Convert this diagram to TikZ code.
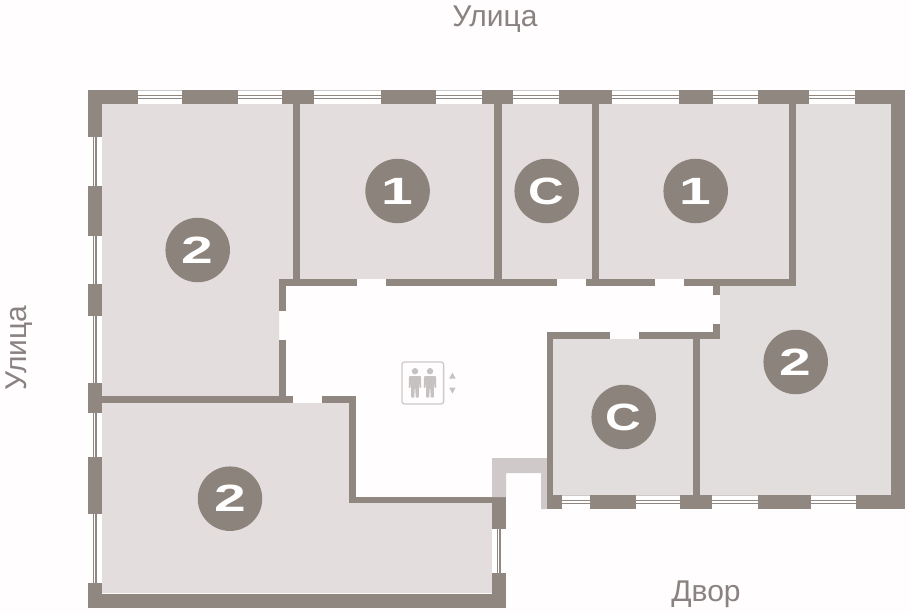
\documentclass[tikz,border=0pt]{standalone}
\usepackage{fontspec}
\setmainfont{Liberation Sans}
\definecolor{wallc}{HTML}{8F8780}
\definecolor{markc}{HTML}{8C837C}
\definecolor{roomc}{HTML}{E4DDDD}
\definecolor{roomd}{HTML}{E2DEDD}
\definecolor{paper}{HTML}{FFFDFD}
\definecolor{lightw}{HTML}{CFCAC9}
\definecolor{iconc}{HTML}{C6C2C2}
\definecolor{labelc}{HTML}{8A8280}
\tikzset{
  wall/.style={fill=wallc,draw=none},
  room/.style={fill=roomc,draw=none},
  lightwall/.style={fill=lightw,draw=none},
  glass/.style={draw=wallc,line width=1.1pt},
  frameline/.style={draw=lightw,line width=0.8pt},
  badge/.style={circle,fill=markc,draw=none,minimum size=64.5pt,inner sep=0pt,text=white,font=\fontsize{38}{38}\selectfont\bfseries},
  streetlabel/.style={text=labelc,font=\fontsize{30}{30}\selectfont,inner sep=0pt},
  iconshape/.style={fill=iconc,draw=none}
}
% horizontal window: x1,x2,y-top,y-bottom
\newcommand{\hwin}[4]{%
  \fill[white] (#1,#3) rectangle (#2,#4);
  \draw[frameline] (#1,#3+0.5) -- (#2,#3+0.5);
  \draw[glass] (#1,#3+5.7) -- (#2,#3+5.7);
  \draw[glass] (#1,#3+8.2) -- (#2,#3+8.2);
}
% vertical window: y1,y2,x-left,x-right
\newcommand{\vwin}[4]{%
  \fill[white] (#3,#1) rectangle (#4,#2);
  \draw[glass] (#3+5.3,#1) -- (#3+5.3,#2);
  \draw[glass] (#3+8,#1) -- (#3+8,#2);
}
% elevator person, centred on x
\newcommand{\liftperson}[1]{%
  \fill[iconshape] (#1,371.2) circle (3.2);
  \fill[iconshape,rounded corners=1pt] (#1-6,376) -- (#1+6,376) -- (#1+6.3,388) -- (#1+4.4,388) -- (#1+4,379.5)
     -- (#1+3.9,397.6) -- (#1+0.6,397.6) -- (#1+0.4,388) -- (#1-0.4,388) -- (#1-0.6,397.6) -- (#1-3.9,397.6)
     -- (#1-4,379.5) -- (#1-4.4,388) -- (#1-6.3,388) -- cycle;
}
\newcommand{\badgetext}[2]{\raisebox{-1.5pt}{\scalebox{#1}[1]{#2}}}
\begin{document}
\begin{tikzpicture}[x=1pt,y=-1pt]
\useasboundingbox (0,0) rectangle (910,613);
\fill[paper] (0,0) rectangle (910,613);

% rooms
\fill[room] (102,104) -- (293,104) -- (293,279) -- (279,279) -- (279,396) -- (102,396) -- cycle;
\fill[room] (300,104) rectangle (494,279);
\fill[room] (502,104) rectangle (592,279);
\fill[room] (599,104) rectangle (789,279);
\fill[roomd] (796,104) -- (891,104) -- (891,495) -- (700,495) -- (700,339) -- (720,339) -- (720,286) -- (796,286) -- cycle;
\fill[roomd] (553,339) rectangle (693,495);
\fill[room] (102,403) -- (349,403) -- (349,503) -- (492,503) -- (492,593) -- (102,593) -- cycle;

% windows
\hwin{138}{182}{90}{104}
\hwin{238}{282}{90}{104}
\hwin{314}{381}{90}{104}
\hwin{436}{482}{90}{104}
\hwin{513}{559}{90}{104}
\hwin{612}{679}{90}{104}
\hwin{713}{758}{90}{104}
\hwin{809}{855}{90}{104}
\hwin{562}{590}{495}{509}
\hwin{636}{680}{495}{509}
\hwin{712}{758}{495}{509}
\hwin{811}{856}{495}{509}
\vwin{137}{186}{88}{102}
\vwin{236}{284}{88}{102}
\vwin{316}{383}{88}{102}
\vwin{413}{457}{88}{102}
\vwin{514}{583}{88}{102}
\vwin{529}{573}{492}{506}

% outer wall, top
\fill[wall] (88,90) rectangle (138,104);
\fill[wall] (182,90) rectangle (238,104);
\fill[wall] (282,90) rectangle (314,104);
\fill[wall] (381,90) rectangle (436,104);
\fill[wall] (482,90) rectangle (513,104);
\fill[wall] (559,90) rectangle (612,104);
\fill[wall] (679,90) rectangle (713,104);
\fill[wall] (758,90) rectangle (809,104);
\fill[wall] (855,90) rectangle (905,104);
% outer wall, right
\fill[wall] (891,90) rectangle (905,509);
% outer wall, left
\fill[wall] (88,90) rectangle (102,137);
\fill[wall] (88,186) rectangle (102,236);
\fill[wall] (88,284) rectangle (102,316);
\fill[wall] (88,383) rectangle (102,413);
\fill[wall] (88,457) rectangle (102,514);
\fill[wall] (88,583) rectangle (102,608);
% outer wall, bottom
\fill[wall] (88,593.5) rectangle (506,608);
\fill[wall] (492,573) rectangle (506,608);
\fill[wall] (492,497) rectangle (506,529);
% lower right facade
\fill[wall] (547,495) rectangle (562,509);
\fill[wall] (590,495) rectangle (636,509);
\fill[wall] (680,495) rectangle (712,509);
\fill[wall] (758,495) rectangle (811,509);
\fill[wall] (856,495) rectangle (905,509);

% light entrance walls
\fill[lightwall] (492,458) -- (547,458) -- (547,509) -- (541,509) -- (541,473) -- (506,473) -- (506,497) -- (492,497) -- cycle;

% partitions, vertical
\fill[wall] (293,104) rectangle (300,279);
\fill[wall] (494,104) rectangle (502,279);
\fill[wall] (592,104) rectangle (599,279);
\fill[wall] (789,104) rectangle (796,286);
\fill[wall] (279,279) rectangle (286,311);
\fill[wall] (279,340) rectangle (286,396);
\fill[wall] (349,396) rectangle (356,503);
\fill[wall] (547,332) rectangle (553,509);
\fill[wall] (693,339) rectangle (700,495);
\fill[wall] (713,286) rectangle (720,295);
\fill[wall] (713,324) rectangle (720,339);
% partitions, horizontal
\fill[wall] (279,279) rectangle (357,286);
\fill[wall] (386,279) rectangle (557,286);
\fill[wall] (586,279) rectangle (655,286);
\fill[wall] (684,279) rectangle (796,286);
\fill[wall] (547,332) rectangle (610,339);
\fill[wall] (639,332) rectangle (720,339);
\fill[wall] (102,396) rectangle (293,403);
\fill[wall] (322,396) rectangle (356,403);
\fill[wall] (349,496.5) rectangle (492,503);

% badges
\node[badge] (a) at (197.7,250) {\badgetext{1.5}{2}};
\node[badge] (b) at (397.6,191) {\badgetext{1.5}{1}};
\node[badge] (c) at (546.7,191) {\badgetext{1.3}{С}};
\node[badge] (d) at (695.7,191) {\badgetext{1.5}{1}};
\node[badge] (e) at (795.7,362) {\badgetext{1.5}{2}};
\node[badge] (f) at (623.7,417) {\badgetext{1.3}{С}};
\node[badge] (g) at (230,498.7) {\badgetext{1.5}{2}};

% elevator icon
\draw[draw=lightw,line width=1.3pt,rounded corners=2.5pt] (402,362) rectangle (443.6,404);
\liftperson{415}
\liftperson{430}
\fill[iconshape] (452.4,372.6) -- (455.6,378.6) -- (449.2,378.6) -- cycle;
\fill[iconshape] (452.4,393.6) -- (455.6,387.6) -- (449.2,387.6) -- cycle;

% labels
\node[streetlabel] (top) at (495,19) {Улица};
\node[streetlabel,rotate=90] (left) at (19,348) {Улица};
\node[streetlabel] (yard) at (706,594) {Двор};
\end{tikzpicture}
\end{document}
